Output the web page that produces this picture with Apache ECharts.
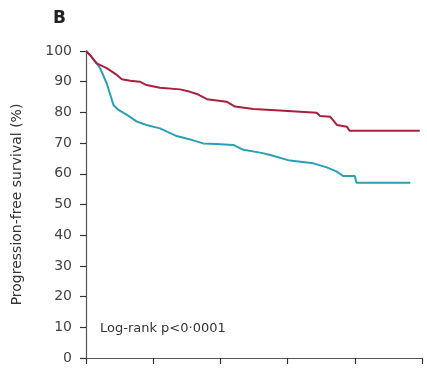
<!DOCTYPE html>
<html>
<head>
<meta charset="utf-8">
<script src="https://cdn.jsdelivr.net/npm/echarts@6/dist/echarts.min.js"></script>
<style>
  html, body { margin: 0; padding: 0; background: #fff; }
  #main { width: 427px; height: 369px; }
</style>
</head>
<body>
<div id="main"></div>
<script>
// months since randomisation, progression-free survival (%)
const redMonths = [0, 0.1, 0.7, 1.9, 3.7, 5.5, 6.4, 7.9, 9.6, 10.8, 13.2, 16.8, 18.6, 19.8, 21.6, 25.1, 26.6, 29.9, 34.6, 41.2, 41.8, 43.6, 44.8, 46.6, 47.1, 59.6];
const redValues = [100, 100, 98.7, 96.0, 94.4, 92.2, 90.8, 90.3, 90.0, 88.9, 88.0, 87.5, 86.7, 86.0, 84.3, 83.5, 81.9, 81.1, 80.6, 79.9, 78.8, 78.6, 75.9, 75.3, 74.0, 74.0];

const blueMonths = [0, 0.1, 0.7, 1.9, 2.5, 3.7, 4.9, 5.8, 7.3, 9.1, 10.8, 13.2, 16.2, 18.6, 20.9, 23.3, 26.3, 28.1, 31.1, 32.9, 36.4, 40.6, 43.0, 44.8, 45.9, 48.0, 48.3, 57.9];
const blueValues = [100, 100, 98.7, 96.0, 94.4, 89.5, 82.4, 80.8, 79.2, 77.0, 75.9, 74.8, 72.3, 71.2, 69.9, 69.7, 69.4, 67.8, 66.9, 66.1, 64.3, 63.4, 62.1, 60.7, 59.3, 59.3, 57.1, 57.1];

const yTicks = [0, 10, 20, 30, 40, 50, 60, 70, 80, 90, 100];
const xTicks = [0, 12, 24, 36, 48, 60];

const font = '"DejaVu Sans", sans-serif';
const axisColor = '#555';

const chart = echarts.init(document.getElementById('main'));

chart.setOption({
  animation: false,
  grid: { left: 86, right: 5, top: 51, bottom: 11, containLabel: false, outerBoundsMode: 'none' },
  xAxis: {
    type: 'value',
    min: xTicks[0],
    max: xTicks[xTicks.length - 1],
    interval: 12,
    axisLine: { lineStyle: { color: axisColor, width: 1.2 } },
    axisTick: { show: true, length: 6, lineStyle: { color: '#333', width: 1.2 } },
    axisLabel: { show: false },
    splitLine: { show: false }
  },
  yAxis: {
    type: 'value',
    min: yTicks[0],
    max: yTicks[yTicks.length - 1],
    interval: 10,
    name: 'Progression-free survival (%)',
    nameLocation: 'middle',
    nameGap: 62,
    nameTextStyle: { fontFamily: font, fontSize: 14, color: '#333' },
    axisLine: { show: true, lineStyle: { color: axisColor, width: 1.2 } },
    axisTick: { show: true, length: 6, lineStyle: { color: '#333', width: 1.2 } },
    axisLabel: { fontFamily: font, fontSize: 14, color: '#444', margin: 14 },
    splitLine: { show: false }
  },
  graphic: [
    { type: 'text', left: 53, top: 10, style: { text: 'B', font: 'bold 17px ' + font, fill: '#222' } },
    { type: 'text', left: 100, top: 322, style: { text: 'Log-rank p<0·0001', font: '13px ' + font, fill: '#333' } }
  ],
  series: [
    {
      type: 'line',
      symbol: 'none',
      data: blueMonths.map((m, i) => [m, blueValues[i]]),
      lineStyle: { color: '#2a9fb5', width: 2 }
    },
    {
      type: 'line',
      symbol: 'none',
      data: redMonths.map((m, i) => [m, redValues[i]]),
      lineStyle: { color: '#a8203c', width: 2 }
    }
  ]
});
</script>
</body>
</html>
